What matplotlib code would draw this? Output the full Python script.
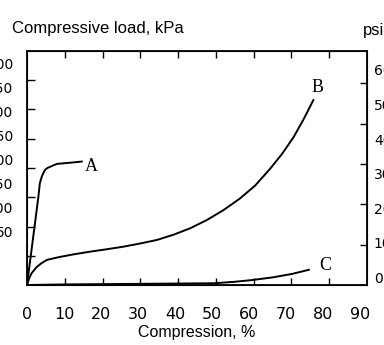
import matplotlib
matplotlib.use('agg')
import matplotlib.pyplot as plt

# curve data: compression (%) vs load (kPa)
a_x = [0, 1, 2, 3, 3.4, 3.9, 4.3, 4.8, 5.4, 6.1, 7.9, 11.4, 14.5]
a_y = [0, 50, 100, 150, 174, 185, 191, 197, 200, 202, 207, 209, 211]

b_x = [0, 0.5, 1.2, 2.6, 4, 5.3, 8.7, 12, 16.7, 21, 25.5, 30, 34.4, 38.8, 43.2,
       47.6, 52.0, 56.4, 60.4, 64.4, 67.5, 70.5, 73.2, 75.8]
b_y = [0, 10, 20, 31, 38, 43, 48, 52, 57, 61, 65.5, 71, 77, 86, 97,
       111, 128, 148, 170, 199, 224, 252, 283, 316]

c_x = [0, 10, 20, 30, 40, 49.5, 55, 59.6, 65, 70.2, 74.6]
c_y = [0, 1, 1.5, 2, 2.5, 3, 5.5, 8.5, 13, 19, 26]

x_labels = [0, 10, 20, 30, 40, 50, 60, 70, 80, 90]
kpa_labels = [50, 100, 150, 200, 250, 300, 350, 400]
psi_labels = [0, 10, 20, 30, 40, 50, 60]

narrow = ['Liberation Sans Narrow', 'DejaVu Sans']
sans = ['Liberation Sans', 'DejaVu Sans']
serif = ['Liberation Serif', 'DejaVu Serif']

fig = plt.figure(figsize=(3.84, 3.45), dpi=100)
pos = [0.0703, 0.1739, 0.8854, 0.6783]
ax = fig.add_axes(pos)

ax.plot(a_x, a_y, color='black', lw=1.4, solid_joinstyle='round')
ax.plot(b_x, b_y, color='black', lw=1.4, solid_joinstyle='round')
ax.plot(c_x, c_y, color='black', lw=1.4, solid_joinstyle='round')

ax.text(17.0, 203, 'A', family=serif, fontsize=13, ha='center', va='center')
ax.text(76.8, 338, 'B', family=serif, fontsize=13, ha='center', va='center')
ax.text(78.9, 34, 'C', family=serif, fontsize=13, ha='center', va='center')

ax.set_xlim(0, 90)
ax.set_ylim(0, 400)
ax.set_xticks(range(10, 90, 10))
ax.set_yticks(range(50, 400, 50))
ax.tick_params(axis='x', direction='in', top=True, bottom=True, length=5, width=1,
               labelbottom=False)
ax.tick_params(axis='y', direction='in', left=True, length=6, width=1, labelleft=False)
for s in ax.spines.values():
    s.set_linewidth(1.3)

# psi ticks on the right spine
ax_psi = ax.twinx()
ax_psi.set_ylim(0, 400 / 6.895)
ax_psi.set_yticks([10, 20, 30, 40, 50])
ax_psi.tick_params(axis='y', direction='in', length=5, width=1, labelright=False)

# the printed tick labels do not sit on the ticks, so they get their own axes
lab = fig.add_axes(pos, frameon=False)
lab.set_xlim(0, 91.9)
lab.set_ylim(-63, 427)
lab.set_xticks(x_labels)
lab.set_xticklabels([str(v) for v in x_labels], family=narrow, fontsize=11.5)
lab.set_yticks(kpa_labels)
lab.set_yticklabels([str(v) for v in kpa_labels], family=narrow, fontsize=10)
lab.tick_params(length=0)
lab.tick_params(axis='x', pad=16)
lab.tick_params(axis='y', pad=10)

lab2 = lab.twinx()
lab2.set_frame_on(False)
lab2.set_ylim(-2.3, 65.5)
lab2.set_yticks(psi_labels)
lab2.set_yticklabels([str(v) for v in psi_labels], family=narrow, fontsize=10)
lab2.tick_params(length=0, pad=5)

lab.set_xlabel('Compression, %', family=sans, fontsize=11.5, labelpad=2)
fig.text(0.031, 0.918, 'Compressive load, kPa', family=sans, fontsize=12, ha='left', va='center')
fig.text(0.945, 0.913, 'psi', family=sans, fontsize=12, ha='left', va='center')

plt.savefig('out.png', dpi=100)
plt.close()
